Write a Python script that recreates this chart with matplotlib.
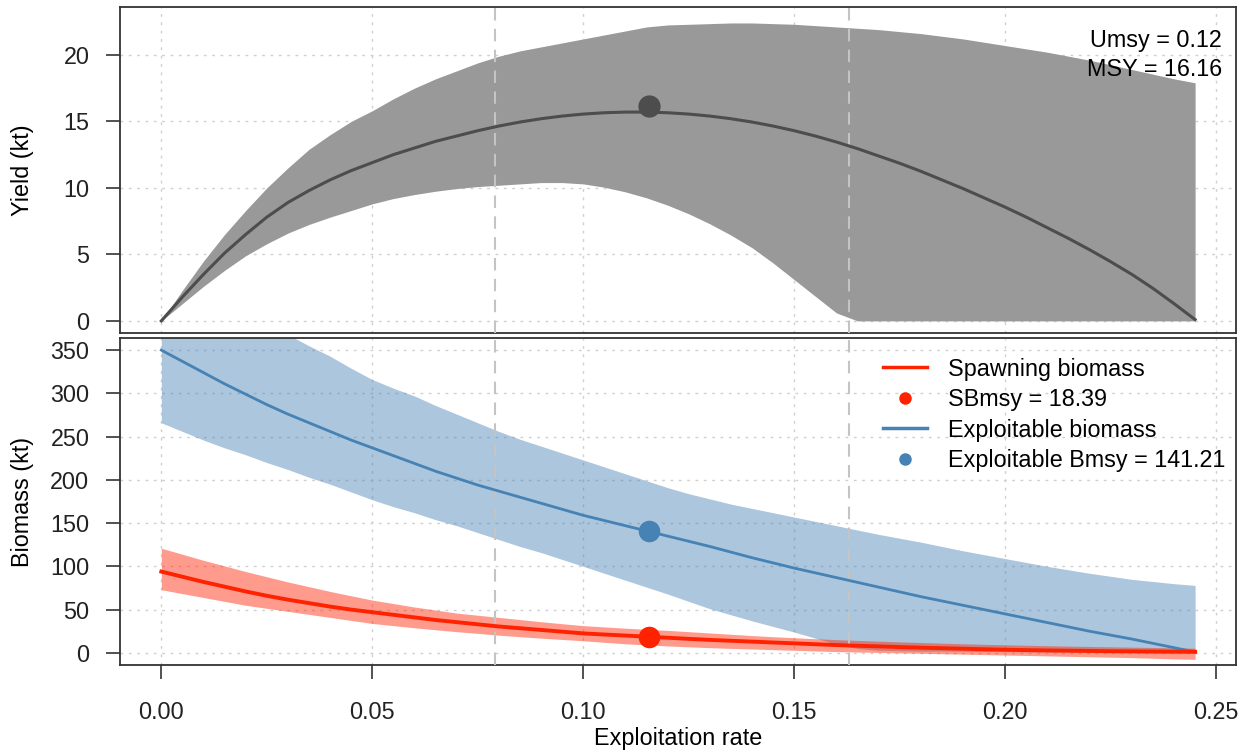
import matplotlib
matplotlib.use("Agg")
import matplotlib.pyplot as plt
from matplotlib.lines import Line2D

plt.rcParams["font.family"] = ["Liberation Sans", "DejaVu Sans"]

# exploitation rate grid
u = [0.000, 0.005, 0.010, 0.015, 0.020, 0.025, 0.030, 0.035, 0.040, 0.045,
     0.050, 0.055, 0.060, 0.065, 0.070, 0.075, 0.080, 0.085, 0.090, 0.095,
     0.100, 0.105, 0.110, 0.115, 0.120, 0.125, 0.130, 0.135, 0.140, 0.145,
     0.150, 0.155, 0.160, 0.165, 0.170, 0.175, 0.180, 0.185, 0.190, 0.195,
     0.200, 0.205, 0.210, 0.215, 0.220, 0.225, 0.230, 0.235, 0.240, 0.245]

# yield (kt): median and interval
yield_med = [0.0, 1.8, 3.5, 5.1, 6.5, 7.8, 8.9, 9.8, 10.6, 11.3,
             11.9, 12.5, 13.0, 13.5, 13.9, 14.3, 14.65, 14.95, 15.2, 15.4,
             15.55, 15.65, 15.7, 15.7, 15.65, 15.55, 15.4, 15.2, 14.95, 14.65,
             14.3, 13.9, 13.45, 12.95, 12.4, 11.85, 11.25, 10.6, 9.95, 9.25,
             8.55, 7.8, 7.0, 6.2, 5.35, 4.45, 3.5, 2.45, 1.3, 0.1]
yield_hi = [0.0, 2.3, 4.5, 6.5, 8.3, 10.0, 11.5, 12.9, 14.0, 15.0,
            15.8, 16.7, 17.5, 18.2, 18.8, 19.4, 19.9, 20.3, 20.6, 20.9,
            21.2, 21.5, 21.8, 22.1, 22.25, 22.3, 22.35, 22.4, 22.4, 22.35,
            22.3, 22.2, 22.1, 22.0, 21.9, 21.75, 21.6, 21.4, 21.2, 20.95,
            20.7, 20.45, 20.2, 19.9, 19.6, 19.25, 18.9, 18.55, 18.2, 17.9]
yield_lo = [0.0, 1.3, 2.6, 3.8, 4.9, 5.8, 6.6, 7.25, 7.8, 8.3,
            8.8, 9.2, 9.5, 9.75, 9.95, 10.1, 10.2, 10.3, 10.4, 10.4,
            10.3, 10.05, 9.7, 9.25, 8.7, 8.05, 7.3, 6.45, 5.5, 4.35,
            3.1, 1.85, 0.6, 0.0, 0.0, 0.0, 0.0, 0.0, 0.0, 0.0,
            0.0, 0.0, 0.0, 0.0, 0.0, 0.0, 0.0, 0.0, 0.0, 0.0]

# exploitable biomass (kt)
eb_med = [350, 337, 324, 311, 299, 287, 276, 266, 256, 246,
          237, 228, 219, 210, 202, 194, 187, 180, 173, 166,
          159, 153, 147, 141, 135, 129, 123, 116.5, 110, 104,
          98, 92.5, 87, 81.5, 76, 70.5, 65, 60, 55, 50,
          45, 40, 35, 30, 25, 20.5, 16, 11, 6, 1]
eb_hi = [455, 440, 425, 410, 396, 382, 368, 355, 343, 329,
         316, 306, 297, 286, 276, 266, 256, 247, 239, 231,
         223, 215, 207, 199, 191, 184, 178, 172, 167, 162,
         157, 152, 147, 142, 137, 132.5, 128, 123, 118, 113.5,
         109, 104.5, 100, 96, 92, 88.5, 85, 82.5, 80, 78]
eb_lo = [266, 256, 246, 237, 229, 220, 212, 203, 195, 186,
         177, 169, 162, 154, 147, 139, 131, 123, 116, 108,
         100, 92, 84, 76, 68, 59.5, 51, 44, 37, 30.5,
         24, 17, 10, 5, 3, 2.5, 2, 2, 2, 1.5,
         1.5, 1, 1, 1, 1, 1, 1, 1, 1, 1]

# spawning biomass (kt)
sb_med = [94, 88, 82, 76.5, 71, 66, 61.5, 57.5, 53.5, 50,
          47, 44, 41, 38, 35.5, 33, 30.5, 28.5, 26.5, 24.5,
          22.5, 21.2, 20, 18.7, 17.5, 16.2, 15, 14, 13, 12,
          11, 10, 9, 8.2, 7.5, 6.7, 6, 5.4, 4.8, 4.2,
          3.6, 3.2, 2.8, 2.5, 2.2, 1.9, 1.7, 1.5, 1.3, 1.2]
sb_hi = [121, 114, 107, 100.5, 94, 88, 82, 76.5, 71, 66,
         61, 57, 53, 49.5, 46, 43.5, 41, 38.5, 36, 33.7,
         31.5, 30, 28.5, 27.2, 26, 24.5, 23, 21.5, 20, 18.7,
         17.5, 16.4, 15.3, 14.4, 13.5, 12.7, 12, 11.2, 10.5, 9.9,
         9.3, 8.8, 8.3, 7.8, 7.4, 7.0, 6.6, 6.2, 5.8, 5.4]
sb_lo = [73, 68.5, 64, 59.5, 55, 51.5, 48, 44.5, 41, 37.5,
         34, 31.5, 29, 26.7, 24.5, 22.5, 20.5, 18.7, 17, 15.5,
         14, 12.2, 10.5, 9.2, 8, 7, 6, 5.2, 4.5, 3.7,
         3, 2.2, 1.5, 1, 0.5, 0, -0.5, -1, -1.5, -2,
         -2.5, -3, -3.5, -4, -4.5, -5, -5.5, -6.2, -7, -7.5]

# reference points
umsy = 0.1156
msy = 16.16
sbmsy = 18.39
ebmsy = 141.21
ref_u = [0.079, 0.163]

x_ticks = [0.00, 0.05, 0.10, 0.15, 0.20, 0.25]
yield_ticks = [0, 5, 10, 15, 20]
bio_ticks = [0, 50, 100, 150, 200, 250, 300, 350]

RED = "#ff2200"
BLUE = "#4682b4"
FS = 16.8

fig = plt.figure(figsize=(12.47, 7.53), dpi=100)
ax1 = fig.add_axes([0.0962, 0.5578, 0.8950, 0.4329])
ax2 = fig.add_axes([0.0962, 0.1169, 0.8950, 0.4342])

xlim = (-0.0098, 0.2547)
grid_kw = dict(color="#d0d0d0", lw=1.0, linestyle=(0, (2, 4)), zorder=0)
ref_kw = dict(color="#c4c4c4", lw=1.5, linestyle=(0, (6, 4)), zorder=5)

for ax in (ax1, ax2):
    ax.set_xlim(*xlim)
    for xt in x_ticks:
        ax.axvline(xt, **grid_kw)
    for r in ref_u:
        ax.axvline(r, **ref_kw)
    for sp in ax.spines.values():
        sp.set_color("#333333")
        sp.set_linewidth(1.3)
    ax.tick_params(axis="y", direction="out", length=10, width=1.1, pad=12,
                   labelsize=FS, colors="#222222")
    ax.tick_params(axis="x", direction="out", length=10, width=1.1, pad=16,
                   labelsize=FS, colors="#222222")
    ax.yaxis.set_label_coords(-0.077, 0.5)

# top panel: yield
ax1.set_ylim(-0.908, 23.6)
for yt in yield_ticks:
    ax1.axhline(yt, **grid_kw)
ax1.fill_between(u, yield_lo, yield_hi, color="#999999", lw=0, zorder=2)
ax1.plot(u, yield_med, color="#4d4d4d", lw=2.2, zorder=6)
ax1.plot([umsy], [msy], "o", color="#4d4d4d", ms=15, zorder=7)
ax1.set_yticks(yield_ticks)
ax1.set_xticks([])
ax1.set_ylabel("Yield (kt)", fontsize=FS)
ax1.text(0.9875, 0.897, f"Umsy = {umsy:.2f}", transform=ax1.transAxes,
         ha="right", va="center", fontsize=FS, zorder=8)
ax1.text(0.9875, 0.808, f"MSY = {msy:.2f}", transform=ax1.transAxes,
         ha="right", va="center", fontsize=FS, zorder=8)

# bottom panel: biomass
ax2.set_ylim(-14, 364)
for yt in bio_ticks:
    ax2.axhline(yt, **grid_kw)
ax2.fill_between(u, eb_lo, eb_hi, color=BLUE, alpha=0.45, lw=0, zorder=2)
ax2.fill_between(u, sb_lo, sb_hi, color=RED, alpha=0.45, lw=0, zorder=3)
ax2.plot(u, eb_med, color=BLUE, lw=2.0, zorder=6)
ax2.plot(u, sb_med, color=RED, lw=2.8, zorder=6)
ax2.plot([umsy], [ebmsy], "o", color=BLUE, ms=14.5, zorder=7)
ax2.plot([umsy], [sbmsy], "o", color=RED, ms=14.5, zorder=7)
ax2.set_yticks(bio_ticks)
ax2.set_xticks(x_ticks)
ax2.set_xticklabels([f"{v:.2f}" for v in x_ticks])
ax2.set_ylabel("Biomass (kt)", fontsize=FS)
ax2.set_xlabel("Exploitation rate", fontsize=FS)
ax2.xaxis.set_label_coords(0.5, -0.19)

handles = [
    Line2D([], [], color=RED, lw=2.5),
    Line2D([], [], color=RED, marker="o", ls="none", ms=8),
    Line2D([], [], color=BLUE, lw=2.5),
    Line2D([], [], color=BLUE, marker="o", ls="none", ms=8),
]
labels = ["Spawning biomass", f"SBmsy = {sbmsy:.2f}",
          "Exploitable biomass", f"Exploitable Bmsy = {ebmsy:.2f}"]
leg = ax2.legend(handles, labels, loc="upper left", bbox_to_anchor=(0.6837, 0.94),
                 frameon=False, fontsize=FS, handlelength=1.9, handletextpad=0.9,
                 labelspacing=0.32, borderpad=0, borderaxespad=0)
leg.set_zorder(9)

fig.savefig("out.png", dpi=100)
